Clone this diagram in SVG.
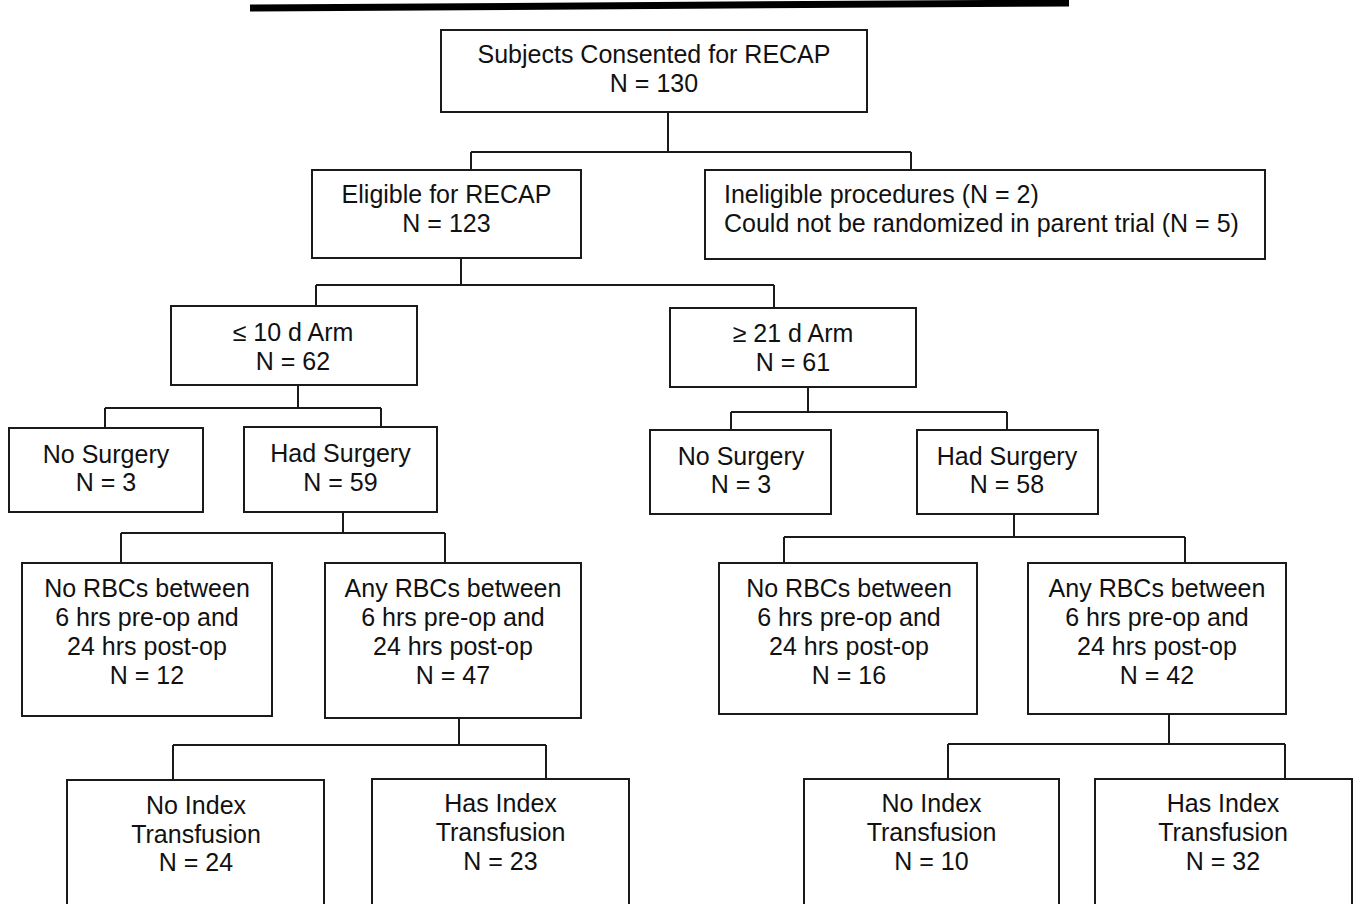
<svg xmlns="http://www.w3.org/2000/svg" width="1355" height="904" viewBox="0 0 1355 904">
<style>
.box{fill:#fff;stroke:#1a1a1a;stroke-width:2}
.t{font-family:"Liberation Sans",Arial,sans-serif;font-size:25px;fill:#111;text-anchor:middle}
.tl{font-family:"Liberation Sans",Arial,sans-serif;font-size:25px;fill:#111}
.c{fill:none;stroke:#1a1a1a;stroke-width:2}
</style>
<rect width="1355" height="904" fill="#fff"/>
<line x1="250" y1="8" x2="1069" y2="3" stroke="#000" stroke-width="7"/>
<g id="connectors">
<path class="c" d="M668,112 V152 M471,152 H911 M471,152 V170 M911,152 V170"/>
<path class="c" d="M461,258 V285 M316,285 H774 M316,285 V306 M774,285 V308"/>
<path class="c" d="M298,385 V408 M105,408 H381 M105,408 V428 M381,408 V427"/>
<path class="c" d="M808,387 V412 M731,412 H1007 M731,412 V430 M1007,412 V430"/>
<path class="c" d="M343,512 V533 M121,533 H445 M121,533 V562 M445,533 V562"/>
<path class="c" d="M1014,514 V537 M784,537 H1185 M784,537 V563 M1185,537 V563"/>
<path class="c" d="M459,718 V745 M173,745 H546 M173,745 V780 M546,745 V779"/>
<path class="c" d="M1169,714 V744 M948,744 H1285 M948,744 V779 M1285,744 V779"/>
</g>
<g id="n-consented"><rect class="box" x="441" y="30" width="426" height="82"/>
<text class="t" x="654" y="63">Subjects Consented for RECAP</text><text class="t" x="654" y="92">N = 130</text></g>
<g id="n-eligible"><rect class="box" x="312" y="170" width="269" height="88"/>
<text class="t" x="446.5" y="203">Eligible for RECAP</text><text class="t" x="446.5" y="232">N = 123</text></g>
<g id="n-ineligible"><rect class="box" x="705" y="170" width="560" height="89"/>
<text class="tl" x="724" y="203">Ineligible procedures (N = 2)</text><text class="tl" x="724" y="232">Could not be randomized in parent trial (N = 5)</text></g>
<g id="n-arm10"><rect class="box" x="171" y="306" width="246" height="79"/>
<text class="t" x="293" y="341">≤ 10 d Arm</text><text class="t" x="293" y="370">N = 62</text></g>
<g id="n-arm21"><rect class="box" x="670" y="308" width="246" height="79"/>
<text class="t" x="793" y="342">≥ 21 d Arm</text><text class="t" x="793" y="371">N = 61</text></g>
<g id="n-nosurg-l"><rect class="box" x="9" y="428" width="194" height="84"/>
<text class="t" x="106" y="463">No Surgery</text><text class="t" x="106" y="491">N = 3</text></g>
<g id="n-hadsurg-l"><rect class="box" x="244" y="427" width="193" height="85"/>
<text class="t" x="340.5" y="462">Had Surgery</text><text class="t" x="340.5" y="491">N = 59</text></g>
<g id="n-nosurg-r"><rect class="box" x="650" y="430" width="181" height="84"/>
<text class="t" x="741" y="465">No Surgery</text><text class="t" x="741" y="493">N = 3</text></g>
<g id="n-hadsurg-r"><rect class="box" x="917" y="430" width="181" height="84"/>
<text class="t" x="1007" y="465">Had Surgery</text><text class="t" x="1007" y="493">N = 58</text></g>
<g id="n-norbc-l"><rect class="box" x="22" y="563" width="250" height="153"/>
<text class="t" x="147" y="597">No RBCs between</text><text class="t" x="147" y="626">6 hrs pre-op and</text><text class="t" x="147" y="655">24 hrs post-op</text><text class="t" x="147" y="684">N = 12</text></g>
<g id="n-anyrbc-l"><rect class="box" x="325" y="563" width="256" height="155"/>
<text class="t" x="453" y="597">Any RBCs between</text><text class="t" x="453" y="626">6 hrs pre-op and</text><text class="t" x="453" y="655">24 hrs post-op</text><text class="t" x="453" y="684">N = 47</text></g>
<g id="n-norbc-r"><rect class="box" x="719" y="563" width="258" height="151"/>
<text class="t" x="849" y="597">No RBCs between</text><text class="t" x="849" y="626">6 hrs pre-op and</text><text class="t" x="849" y="655">24 hrs post-op</text><text class="t" x="849" y="684">N = 16</text></g>
<g id="n-anyrbc-r"><rect class="box" x="1028" y="563" width="258" height="151"/>
<text class="t" x="1157" y="597">Any RBCs between</text><text class="t" x="1157" y="626">6 hrs pre-op and</text><text class="t" x="1157" y="655">24 hrs post-op</text><text class="t" x="1157" y="684">N = 42</text></g>
<g id="n-noidx-l"><rect class="box" x="67" y="780" width="257" height="140"/>
<text class="t" x="196" y="814">No Index</text><text class="t" x="196" y="843">Transfusion</text><text class="t" x="196" y="871">N = 24</text></g>
<g id="n-hasidx-l"><rect class="box" x="372" y="779" width="257" height="140"/>
<text class="t" x="500.5" y="812">Has Index</text><text class="t" x="500.5" y="841">Transfusion</text><text class="t" x="500.5" y="870">N = 23</text></g>
<g id="n-noidx-r"><rect class="box" x="804" y="779" width="255" height="140"/>
<text class="t" x="931.5" y="812">No Index</text><text class="t" x="931.5" y="841">Transfusion</text><text class="t" x="931.5" y="870">N = 10</text></g>
<g id="n-hasidx-r"><rect class="box" x="1095" y="779" width="257" height="140"/>
<text class="t" x="1223" y="812">Has Index</text><text class="t" x="1223" y="841">Transfusion</text><text class="t" x="1223" y="870">N = 32</text></g>
</svg>
